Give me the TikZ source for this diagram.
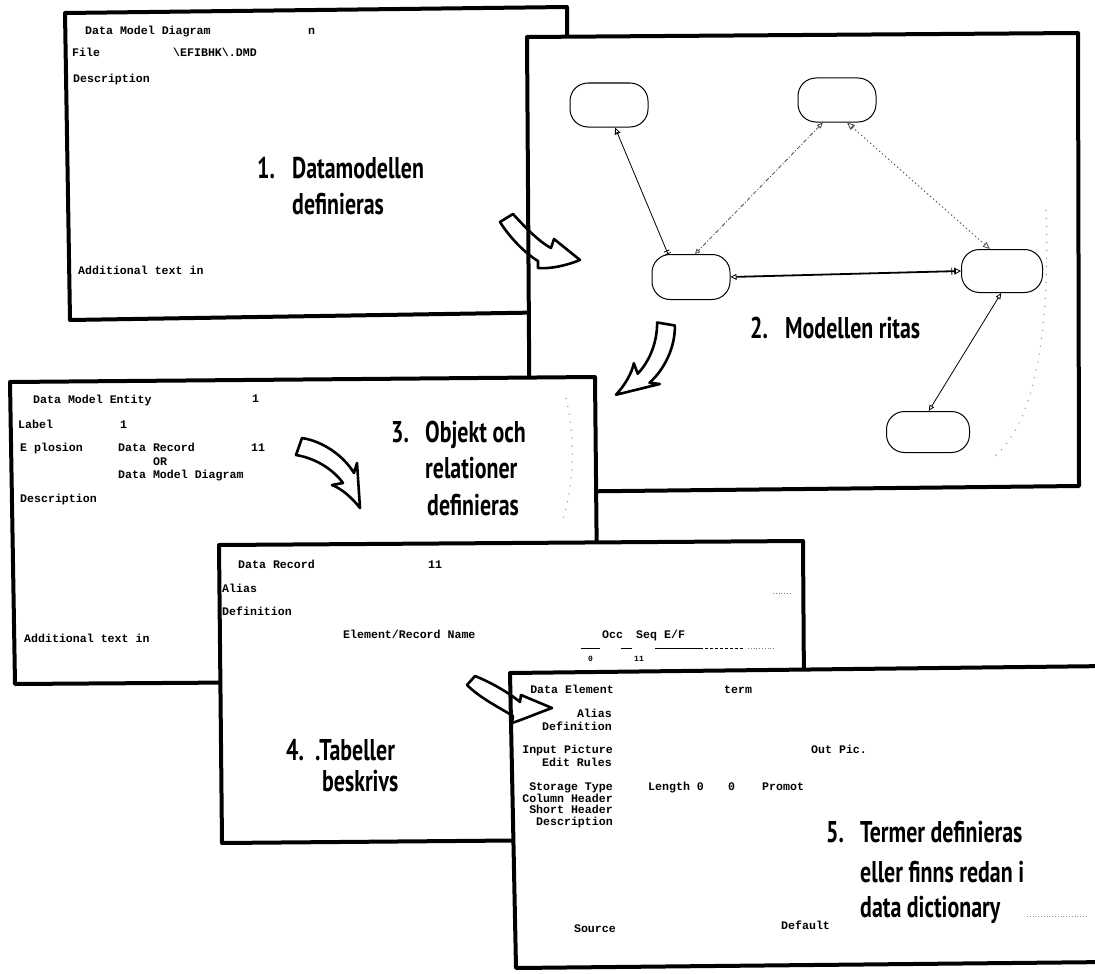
\documentclass[tikz,border=0pt]{standalone}
\usepackage{fontspec}
\usetikzlibrary{arrows.meta,calc}
\newfontfamily\scr{Liberation Mono}
\newfontfamily\hand{PT Sans}[FakeStretch=0.73]
\begin{document}
\begin{tikzpicture}[x=1pt,y=-1pt,
  frame/.style={line width=4pt, fill=white, line join=round},
  scr/.style={font=\scr\bfseries\fontsize{11.6}{12}\selectfont, anchor=base west, inner sep=0pt},
  scrr/.style={scr, anchor=base east},
  big/.style={font=\hand\bfseries\fontsize{30}{36}\selectfont, anchor=base west, inner sep=0pt},
  ent/.style={draw, line width=1pt, rounded corners=18pt, minimum width=78pt, minimum height=44pt, inner sep=0pt},
  rel/.style={line width=0.8pt},
  flow/.style={line width=2.6pt, line join=round},
  haze/.style={black!40, line width=1.2pt, dash pattern=on 1pt off 7pt}
]
\useasboundingbox (0,0) rectangle (1095,974);

% ---------- screen 1: data model diagram form
\draw[frame] (65,13) -- (567,7) -- (569,312) -- (70,320) -- cycle;
\node[scr] (d1) at (85,35) {Data Model Diagram};
\node[scr] (d1n) at (308,35) {n};
\node[scr] (f1) at (72,57) {File};
\node[scr] (f1v) at (173,57) {\textbackslash EFIBHK\textbackslash.DMD};
\node[scr] (ds1) at (73,82) {Description};
\node[scr] (at1) at (78,274) {Additional text in};
\node[big] (n1) at (257,178) {1.};
\node[big] (t1a) at (292,178) {Datamodellen};
\node[big] (t1b) at (292,214) {definieras};

% ---------- screen 2: the drawn model
\draw[frame] (527,37) -- (1078,33) -- (1079,486) -- (530,492) -- cycle;
\node[ent] (e1) at (609,105) {};
\node[ent] (e2) at (837,100) {};
\node[ent, minimum height=45pt] (e3) at (691,277) {};
\node[ent, minimum width=81pt, minimum height=43pt] (e4) at (1002,271) {};
\node[ent, minimum width=83pt, minimum height=41pt] (e5) at (928,432) {};

\draw[rel, {Triangle[open,length=6pt,width=5pt]Bar[width=6pt]}-{Bar[width=6pt,sep=2pt]Bar[width=6pt]}] (e1.-75) -- (e3.135);
\draw[rel, black!70, dash pattern=on 4pt off 2pt on 1pt off 2pt,
      {Triangle[open,length=6pt,width=5pt]}-{Triangle[open,length=5pt,width=5pt]}] (e2.-122) -- (e3.80);
\draw[rel, black!70, dash pattern=on 1.5pt off 2.5pt,
      {Triangle[open,length=7pt,width=6pt]Bar[width=6pt]}-{Triangle[open,length=7pt,width=6pt]}] (e2.-66) -- (e4.119);
\draw[line width=1.8pt, {Triangle[open,length=6pt,width=6pt,line width=0.8pt]}-{Bar[width=7pt,line width=0.8pt,sep=2pt]Bar[width=7pt,line width=0.8pt]Triangle[open,length=6pt,width=6pt,line width=0.8pt]}] (e3.east) -- (e4.west);
\draw[rel, {Triangle[open,length=6pt,width=5pt]}-{Triangle[open,length=6pt,width=5pt]}] (e4.-92) -- (e5.88);
\draw[haze] (1046,210) .. controls (1050,330) and (1036,420) .. (995,456);
\node[big] (n2) at (750,338) {2.};
\node[big] (t2) at (785,338) {Modellen ritas};

% ---------- screen 3: data model entity
\draw[frame] (10,382) -- (595,377) -- (598,680) -- (15,684) -- cycle;
\node[scr] (d3) at (33,403) {Data Model Entity};
\node[scr] (d3n) at (252,402) {1};
\node[scr] (l3) at (18,428) {Label};
\node[scr] (l3v) at (120,428) {1};
\node[scr] (x3) at (20,451) {E plosion};
\node[scr] (x3a) at (118,451) {Data Record};
\node[scr] (x3n) at (251,451) {11};
\node[scr] (x3b) at (153,465) {OR};
\node[scr] (x3c) at (118,478) {Data Model Diagram};
\node[scr] (ds3) at (20,502) {Description};
\node[scr] (at3) at (24,642) {Additional text in};
\draw[haze] (566,398) .. controls (576,440) and (574,485) .. (562,522);
\node[big] (n3) at (391,442) {3.};
\node[big] (t3a) at (425,442) {Objekt och};
\node[big] (t3b) at (425,478) {relationer};
\node[big] (t3c) at (427,515) {definieras};

% ---------- screen 4: data record
\draw[frame] (219,545) -- (803,541) -- (805,838) -- (222,843) -- cycle;
\node[scr] (d4) at (238,568) {Data Record};
\node[scr] (d4n) at (428,568) {11};
\node[scr] (a4) at (222,592) {Alias};
\node[scr] (df4) at (222,615) {Definition};
\node[scr] (er4) at (343,638) {Element/Record Name};
\node[scr] (oc4) at (602,638) {Occ};
\node[scr] (sq4) at (636,638) {Seq};
\node[scr] (ef4) at (664,638) {E/F};
\draw[line width=0.8pt] (581,648) -- (600,648) (621,648) -- (632,648) (655,648) -- (700,648);
\draw[line width=0.8pt, dash pattern=on 3pt off 2pt] (700,648) -- (745,648);
\draw[black!50, line width=0.8pt, dotted] (748,648) -- (775,648) (773,593) -- (792,593);
\node[scr, font=\scr\bfseries\fontsize{8}{9}\selectfont] (o4) at (588,661) {0};
\node[scr, font=\scr\bfseries\fontsize{8}{9}\selectfont] (s4) at (634,661) {11};
\node[big] (n4) at (286,760) {4.};
\node[big] (t4a) at (315,760) {.Tabeller};
\node[big] (t4b) at (322,791) {beskrivs};

% ---------- screen 5: data element
\draw[frame] (510,673) -- (1110,666) -- (1110,962) -- (516,968) -- cycle;
\node[scrr] (de5) at (614,693) {Data Element};
\node[scr] (tm5) at (724,693) {term};
\node[scrr] (al5) at (612,717) {Alias};
\node[scrr] (df5) at (612,730) {Definition};
\node[scrr] (ip5) at (613,753) {Input Picture};
\node[scr] (op5) at (811,753) {Out Pic.};
\node[scrr] (er5) at (612,766) {Edit Rules};
\node[scrr] (st5) at (613,790) {Storage Type};
\node[scr] (ln5) at (648,790) {Length 0};
\node[scr] (z5) at (728,790) {0};
\node[scr] (pr5) at (762,790) {Promot};
\node[scrr] (ch5) at (613,802) {Column Header};
\node[scrr] (sh5) at (613,813) {Short Header};
\node[scrr] (ds5) at (613,825) {Description};
\node[scrr] (so5) at (616,932) {Source};
\node[scr] (dv5) at (781,929) {Default};
\node[big] (n5) at (826,842) {5.};
\node[big] (t5a) at (860,842) {Termer definieras};
\node[big] (t5b) at (860,882) {eller finns redan i};
\node[big] (t5c) at (860,917) {data dictionary};
\draw[black!45, line width=0.8pt, dotted] (1027,916) -- (1088,916);

% ---------- bent flow arrows between the screens
\draw[flow] (500,222) -- (513,214) .. controls (524,226) and (538,241) .. (551,248) -- (554,239) -- (580,260)
  .. controls (565,266) and (550,269) .. (538,268) -- (538,261) .. controls (526,254) and (510,238) .. (500,222) -- cycle;
\begin{scope}[shift={(666,324)}, rotate=-80]
\draw[flow] (-3,8.5) -- (3,-8.5) .. controls (25,-5) and (45,10) .. (55,26.5) -- (58,16.5) -- (61,61.5)
  .. controls (52,50) and (42,42) .. (33,38.5) -- (44,36.5) .. controls (35,24) and (18,12) .. (-3,8.5) -- cycle;
\end{scope}
\begin{scope}[shift={(299,446.5)}]
\draw[flow] (-3,8.5) -- (3,-8.5) .. controls (25,-5) and (45,10) .. (55,26.5) -- (58,16.5) -- (61,61.5)
  .. controls (52,50) and (42,42) .. (33,38.5) -- (44,36.5) .. controls (35,24) and (18,12) .. (-3,8.5) -- cycle;
\end{scope}
\draw[flow] (467,685) -- (475,676) .. controls (490,682) and (508,692) .. (520,702) -- (521,695) -- (552,708)
  .. controls (538,713) and (524,719) .. (512,723) -- (513,716) .. controls (500,708) and (480,698) .. (467,685) -- cycle;
\end{tikzpicture}
\end{document}
